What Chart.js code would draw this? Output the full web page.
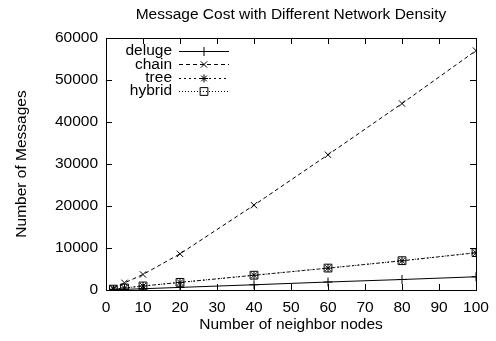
<!DOCTYPE html>
<html><head><meta charset="utf-8">
<script src="https://cdn.jsdelivr.net/npm/chart.js@4"></script>
<style>html,body{margin:0;padding:0;background:#fff}#wrap{width:496px;height:341px}</style>
</head><body><div id="wrap"><canvas id="c" width="496" height="341"></canvas></div>
<script>
const chartTitle = 'Message Cost with Different Network Density';
const xTitle = 'Number of neighbor nodes';
const yTitle = 'Number of Messages';
const neighbors = [2, 5, 10, 20, 40, 60, 80, 100];
const deluge = [60, 150, 300, 620, 1250, 1900, 2500, 3150];
const chain = [450, 1700, 3700, 8600, 20200, 32200, 44400, 57000];
const tree = [200, 480, 950, 1800, 3500, 5200, 6950, 8850];
const hybrid = [210, 490, 960, 1820, 3520, 5220, 6980, 8900];
const seriesNames = ['deluge', 'chain', 'tree', 'hybrid'];

const FONT = {family: '"Liberation Sans", Arial, sans-serif', size: 15.5};
const pts = arr => neighbors.map((x, i) => ({x: x, y: arr[i]}));

const styles = [
  {pointStyle: 'cross', pointRadius: 4.5, borderDash: []},
  {pointStyle: 'crossRot', pointRadius: 4.5, borderDash: [4, 3]},
  {pointStyle: 'star', pointRadius: 4, borderDash: [2, 3]},
  {pointStyle: 'rect', pointRadius: 5.5, borderDash: [1, 2]}
];
const values = [deluge, chain, tree, hybrid];

const datasets = seriesNames.map((n, i) => ({
  label: n,
  data: pts(values[i]),
  borderColor: '#000',
  borderWidth: 1,
  borderDash: styles[i].borderDash,
  pointStyle: styles[i].pointStyle,
  pointRadius: styles[i].pointRadius,
  pointBorderColor: '#000',
  pointBackgroundColor: 'rgba(0,0,0,0)',
  pointBorderWidth: 1,
  fill: false,
  tension: 0,
  xAxisID: 'x',
  yAxisID: 'y'
}));

const gridOpt = {display: true, drawOnChartArea: false, drawTicks: true, tickLength: -6, color: '#000', lineWidth: 1};
const borderOpt = {display: true, color: '#000', width: 1};
const noPad = s => { s.paddingLeft = 0; s.paddingRight = 0; s.paddingTop = 0; s.paddingBottom = 0; };

const titlePlugin = {
  id: 'ctitle',
  afterDraw(chart) {
    const ctx = chart.ctx, a = chart.chartArea;
    ctx.save();
    ctx.font = FONT.size + 'px ' + FONT.family;
    ctx.fillStyle = '#000';
    ctx.textAlign = 'center';
    ctx.textBaseline = 'middle';
    ctx.fillText(chartTitle, (a.left + a.right) / 2, 15);
    ctx.restore();
  }
};

const legendPlugin = {
  id: 'clegend',
  afterDatasetsDraw(chart) {
    const ctx = chart.ctx;
    const textRight = 172, lx1 = 179, lx2 = 229, y0 = 51, dy = 13.3;
    ctx.save();
    chart.data.datasets.forEach((ds, i) => {
      const y = y0 + i * dy;
      ctx.font = FONT.size + 'px ' + FONT.family;
      ctx.fillStyle = '#000';
      ctx.textAlign = 'right';
      ctx.textBaseline = 'middle';
      ctx.fillText(ds.label, textRight, y);
      ctx.strokeStyle = '#000';
      ctx.lineWidth = 1;
      ctx.setLineDash(ds.borderDash);
      ctx.beginPath();
      ctx.moveTo(lx1, Math.round(y) + 0.5);
      ctx.lineTo(lx2, Math.round(y) + 0.5);
      ctx.stroke();
      ctx.setLineDash([]);
      ctx.fillStyle = 'rgba(0,0,0,0)';
      Chart.helpers.drawPoint(ctx, {pointStyle: ds.pointStyle, radius: ds.pointRadius, rotation: 0, borderWidth: 1}, (lx1 + lx2) / 2, Math.round(y) + 0.5);
    });
    ctx.restore();
  }
};

new Chart(document.getElementById('c'), {
  type: 'line',
  data: {datasets: datasets},
  plugins: [titlePlugin, legendPlugin],
  options: {
    responsive: false,
    animation: false,
    devicePixelRatio: 1,
    layout: {padding: 0},
    plugins: {legend: {display: false}, title: {display: false}, tooltip: {enabled: false}},
    scales: {
      x: {
        type: 'linear', position: 'bottom', min: 0, max: 100,
        ticks: {stepSize: 10, font: FONT, color: '#000', padding: 14, maxRotation: 0},
        grid: gridOpt, border: borderOpt,
        title: {display: true, text: xTitle, font: FONT, color: '#000', padding: {top: 7, bottom: 7}},
        afterFit(s) { s.height = 51; noPad(s); }
      },
      x2: {
        type: 'linear', position: 'top', min: 0, max: 100,
        ticks: {stepSize: 10, display: false},
        grid: gridOpt, border: borderOpt,
        afterFit(s) { s.height = 38; noPad(s); }
      },
      y: {
        type: 'linear', position: 'left', min: 0, max: 60000,
        ticks: {stepSize: 10000, font: FONT, color: '#000', padding: 14, callback: v => String(v)},
        grid: gridOpt, border: borderOpt,
        title: {display: true, text: yTitle, font: FONT, color: '#000', padding: {top: 12, bottom: 12}},
        afterFit(s) { s.width = 106; noPad(s); }
      },
      y2: {
        type: 'linear', position: 'right', min: 0, max: 60000,
        ticks: {stepSize: 10000, display: false},
        grid: gridOpt, border: borderOpt,
        afterFit(s) { s.width = 20; noPad(s); }
      }
    }
  }
});
</script>
</body></html>
